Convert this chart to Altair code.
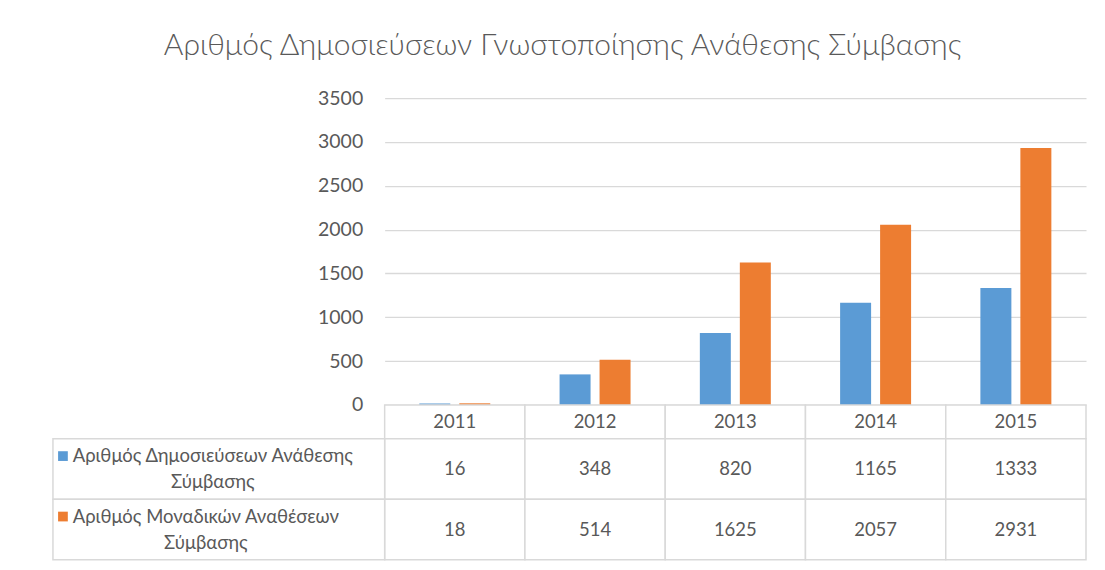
import altair as alt
import pandas as pd

years = ["2011", "2012", "2013", "2014", "2015"]
series = ["Αριθμός Δημοσιεύσεων Ανάθεσης Σύμβασης", "Αριθμός Μοναδικών Αναθέσεων Σύμβασης"]
series_labels = ["Αριθμός Δημοσιεύσεων Ανάθεσης\nΣύμβασης", "Αριθμός Μοναδικών Αναθέσεων\nΣύμβασης"]
publications = [16, 348, 820, 1165, 1333]
awards = [18, 514, 1625, 2057, 2931]
colors = ["#5B9BD5", "#ED7D31"]
y_ticks = [0, 500, 1000, 1500, 2000, 2500, 3000, 3500]
title = "Αριθμός Δημοσιεύσεων Γνωστοποίησης Ανάθεσης Σύμβασης"

rows = []
for s, vals in zip(series, [publications, awards]):
    for y, v in zip(years, vals):
        rows.append({"year": y, "series": s, "value": v})
df = pd.DataFrame(rows)
df_years = pd.DataFrame({"year": years})
df_series = pd.DataFrame({"series": series, "label": series_labels})

FONT = "Lato"
TXT = "#595959"
GRID = "#D9D9D9"
TFS = 18.5

color_scale = alt.Scale(domain=series, range=colors)

bars = alt.Chart(df).mark_bar().encode(
    x=alt.X("year:N", sort=years, axis=None,
            scale=alt.Scale(paddingInner=0.494, paddingOuter=0.247)),
    xOffset=alt.XOffset("series:N", sort=series,
                        scale=alt.Scale(paddingInner=0.225, paddingOuter=0)),
    y=alt.Y("value:Q", scale=alt.Scale(domain=[0, 3500], nice=False),
            axis=alt.Axis(values=y_ticks, title=None, domain=False, ticks=False,
                          grid=True, gridColor=GRID, gridWidth=1.3, format="d",
                          labelFont=FONT, labelFontSize=19.5, labelColor=TXT,
                          labelPadding=22)),
    color=alt.Color("series:N", scale=color_scale, legend=None),
).properties(width=702, height=307)

hdr_x = alt.X("year:N", sort=years, axis=None, scale=alt.Scale(padding=0))
header = alt.layer(
    alt.Chart(df_years).mark_rect(fill="white", stroke=GRID, strokeWidth=1.5).encode(x=hdr_x),
    alt.Chart(df_years).mark_text(font=FONT, fontSize=TFS, color=TXT).encode(x=hdr_x, text="year:N"),
).properties(width=702, height=34)

bx = alt.X("year:N", sort=years, axis=None, scale=alt.Scale(padding=0))
by = alt.Y("series:N", sort=series, axis=None, scale=alt.Scale(padding=0))


def label_layer(idx, xpos):
    return alt.Chart(df_series).transform_filter(
        alt.datum.series == series[idx]
    ).mark_text(font=FONT, fontSize=TFS, color=TXT, lineBreak="\n",
                lineHeight=26, align="center", dy=-13).encode(
        x=alt.value(xpos), y=by, text="label:N")


body = alt.layer(
    alt.Chart(df).mark_rect(fill="white", stroke=GRID, strokeWidth=1.5).encode(x=bx, y=by),
    alt.Chart(df).mark_text(font=FONT, fontSize=TFS, color=TXT).encode(x=bx, y=by, text="value:Q"),
    alt.Chart(df_series).mark_rect(fill="white", stroke=GRID, strokeWidth=1.5).encode(
        x=alt.value(-332), x2=alt.value(0), y=by),
    label_layer(0, -172),
    label_layer(1, -179),
    alt.Chart(df_series).mark_point(shape="square", filled=True, size=95, opacity=1,
                                    yOffset=-13).encode(
        x=alt.value(-322), y=by,
        color=alt.Color("series:N", scale=color_scale, legend=None)),
).properties(width=702, height=121)

chart = alt.vconcat(bars, header, body, spacing=0, bounds="flush").resolve_scale(
    x="independent", y="independent"
).properties(
    title=alt.TitleParams(title, font=FONT, fontSize=30, fontWeight=300, color=TXT,
                          anchor="middle", offset=27, dx=-7),
    padding={"left": 44, "top": 23, "right": 10, "bottom": 5},
    background="white",
).configure_view(stroke=None)

chart.save("out.html", embed_options={"renderer": "svg", "actions": False})
